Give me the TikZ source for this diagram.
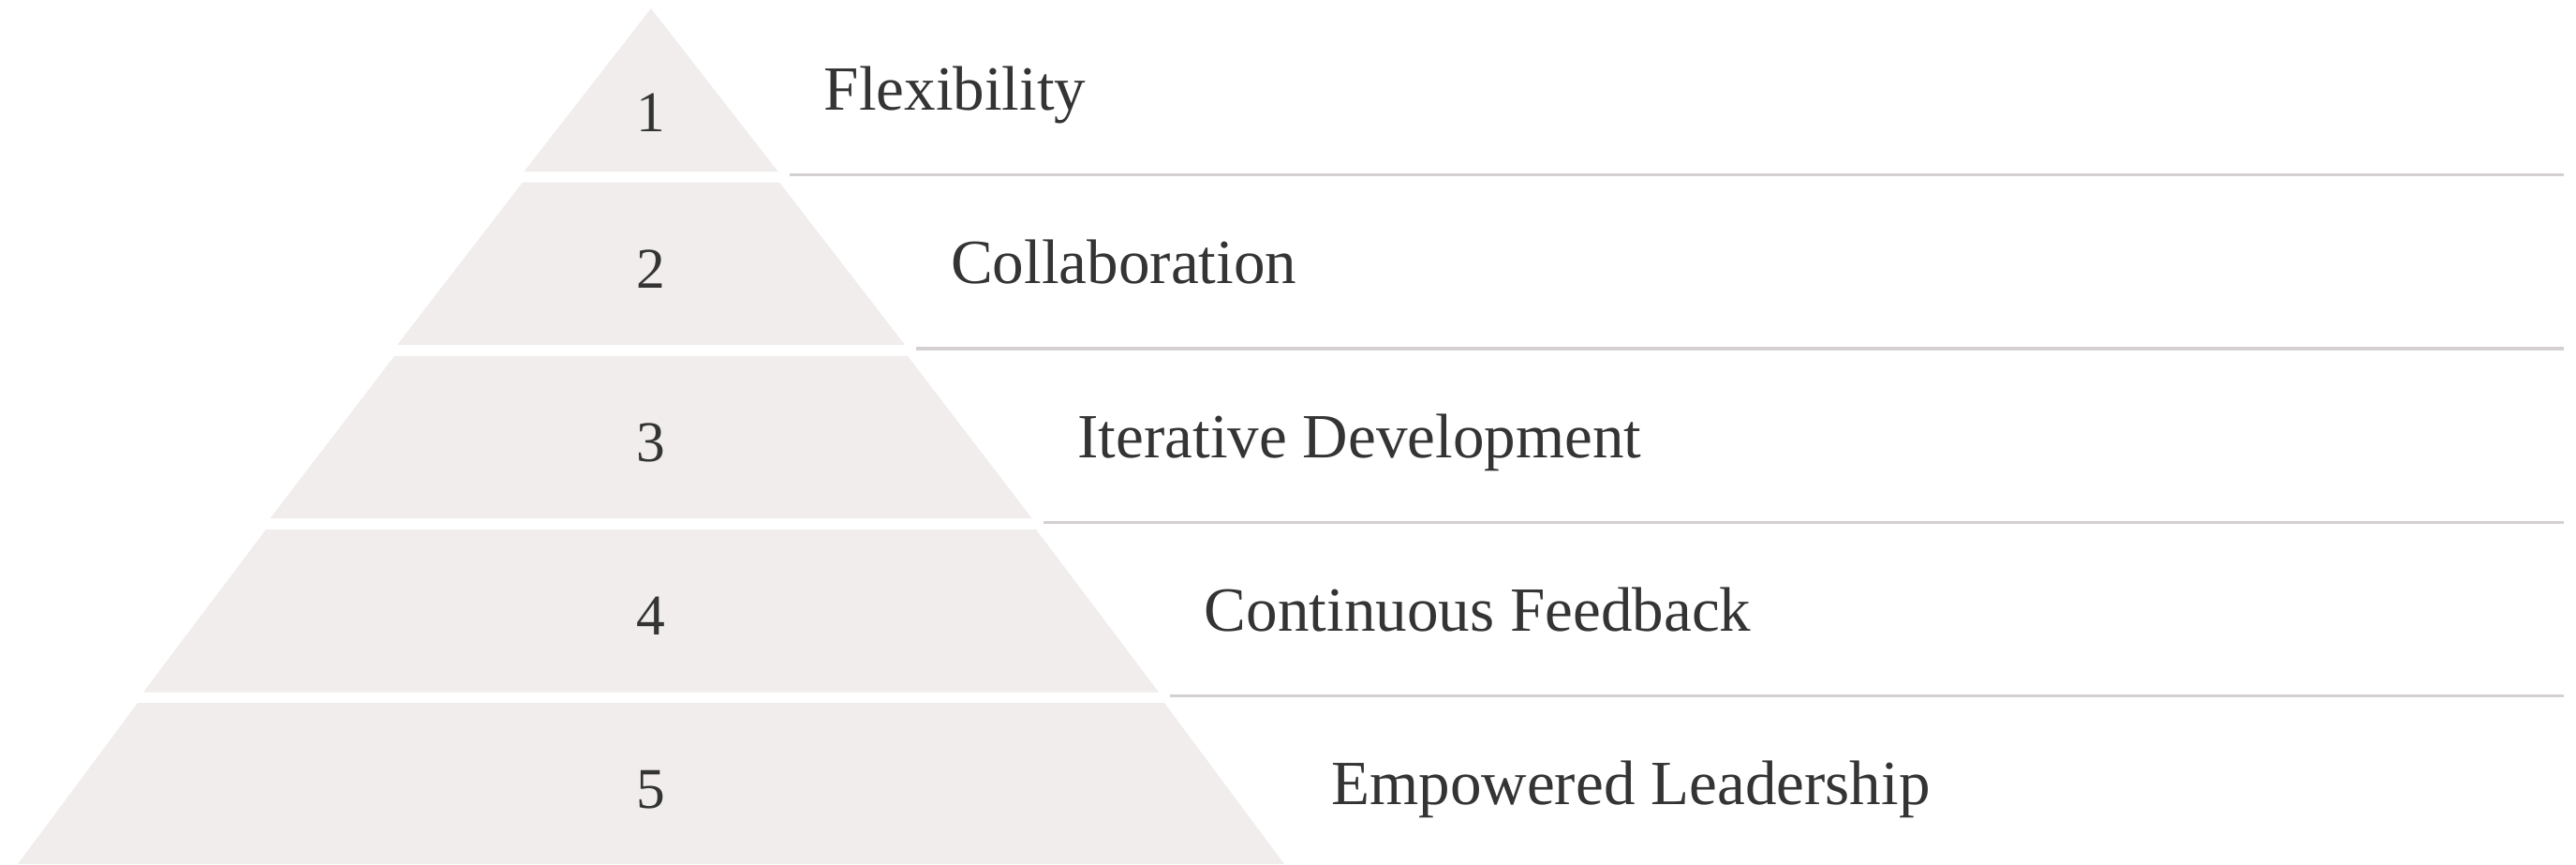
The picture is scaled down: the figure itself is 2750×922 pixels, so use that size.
\documentclass[tikz,border=0pt]{standalone}
\usepackage{fontspec}
\setmainfont{Liberation Serif}
\usepackage{xcolor}
\definecolor{pyrfill}{RGB}{240,237,236}
\definecolor{sepline}{RGB}{212,208,208}
\definecolor{txtgray}{RGB}{52,52,52}

\begin{document}
\begin{tikzpicture}[x=0.1mm, y=-0.1mm,
  level/.style={fill=pyrfill},
  sep/.style={draw=sepline, line width=1pt},
  num/.style={anchor=base, inner sep=0pt, text=txtgray, font=\fontsize{17.5}{20}\selectfont},
  lbl/.style={anchor=base west, inner sep=0pt, text=txtgray, font=\fontsize{19.1}{22}\selectfont}]
\useasboundingbox (0,0) rectangle (2750,922);
% пирамида
\fill [level] (695,9) -- (830.5,183) -- (559.5,183) -- cycle;
\fill [level] (558,194.5) -- (832,194.5) -- (966,368) -- (424,368) -- cycle;
\fill [level] (421,380) -- (969,380) -- (1101.5,553) -- (288.5,553) -- cycle;
\fill [level] (284,565) -- (1106,565) -- (1237,738.5) -- (153,738.5) -- cycle;
\fill [level] (147,750) -- (1243,750) -- (1371,922) -- (19,922) -- cycle;
% линии
\draw [sep] (842.6,186.7) -- (2737,186.7);
\draw [sep] (978.2,372) -- (2737,372);
\draw [sep] (1113.8,557.3) -- (2737,557.3);
\draw [sep] (1249.4,742.6) -- (2737,742.6);
% номера
\node [num] (n1) at (695,140) {1};
\node [num] (n2) at (695,307) {2};
\node [num] (n3) at (695,492) {3};
\node [num] (n4) at (695,677) {4};
\node [num] (n5) at (695,862) {5};
% подписи
\node [lbl] (flex) at (879,117) {Flexibility};
\node [lbl] (collab) at (1014.4,302.5) {Collaboration};
\node [lbl] (iter) at (1149.8,488) {Iterative Development};
\node [lbl] (feed) at (1285.2,673) {Continuous Feedback};
\node [lbl] (lead) at (1420.6,858) {Empowered Leadership};
\end{tikzpicture}
\end{document}
